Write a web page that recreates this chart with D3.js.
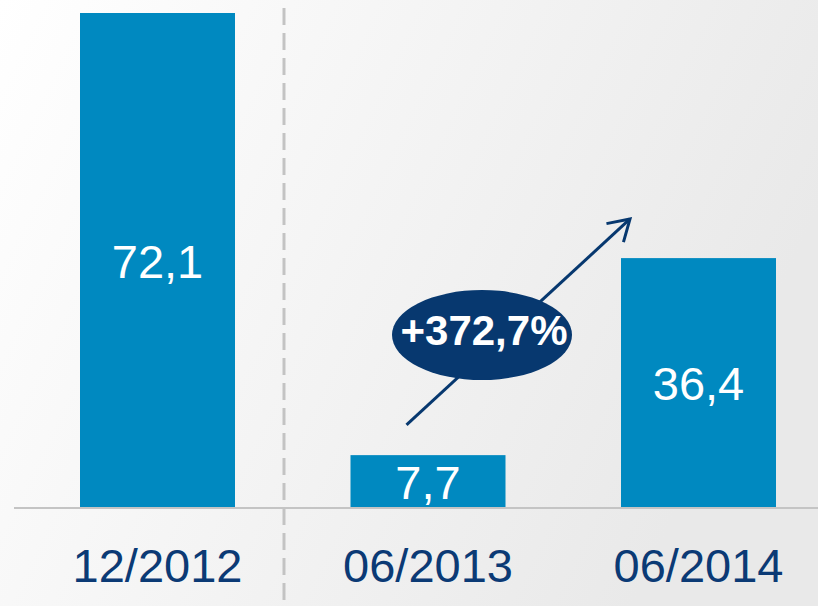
<!DOCTYPE html>
<html lang="en">
<head>
<meta charset="utf-8">
<title>Bars 12/2012 - 06/2014</title>
<script src="https://cdnjs.cloudflare.com/ajax/libs/d3/7.8.5/d3.min.js"></script>
<style>
  html, body { margin: 0; padding: 0; }
  body { width: 818px; height: 606px; overflow: hidden; }
  svg { display: block; font-family: "Liberation Sans", Arial, sans-serif; }
</style>
</head>
<body>
<div id="chart"></div>
<script>
// data
var categories = ["12/2012", "06/2013", "06/2014"];
var values = [72.1, 7.7, 36.4];
var valueLabels = ["72,1", "7,7", "36,4"];
var growthLabel = "+372,7%";

var width = 818, height = 606;
var baseY = 508, topY = 13;

var svg = d3.select("#chart").append("svg")
  .attr("width", width)
  .attr("height", height);

// soft grey background
var defs = svg.append("defs");
var grad = defs.append("linearGradient")
  .attr("id", "bg")
  .attr("x1", "0%").attr("y1", "0%")
  .attr("x2", "100%").attr("y2", "35%");
grad.append("stop").attr("offset", "0%").attr("stop-color", "#ffffff");
grad.append("stop").attr("offset", "100%").attr("stop-color", "#e9e9e9");

svg.append("rect")
  .attr("width", width).attr("height", height)
  .attr("fill", "url(#bg)");

var x = d3.scaleBand()
  .domain(categories)
  .range([22.25, 833.75])
  .paddingInner(0.427)
  .paddingOuter(0.2135);

var y = d3.scaleLinear()
  .domain([0, d3.max(values)])
  .range([baseY, topY]);

// dashed separator
svg.append("line")
  .attr("x1", 284).attr("x2", 284)
  .attr("y1", 8).attr("y2", height)
  .attr("stroke", "#c3c3c3")
  .attr("stroke-width", 3)
  .attr("stroke-dasharray", "17,8");

// bars
svg.selectAll("rect.bar")
  .data(values)
  .join("rect")
  .attr("class", "bar")
  .attr("x", function (d, i) { return x(categories[i]); })
  .attr("y", function (d) { return y(d); })
  .attr("width", x.bandwidth())
  .attr("height", function (d) { return y(0) - y(d); })
  .attr("fill", "#0089c0");

// baseline
svg.append("line")
  .attr("x1", 14).attr("x2", width)
  .attr("y1", baseY).attr("y2", baseY)
  .attr("stroke", "#c4c4c4")
  .attr("stroke-width", 2);

// value labels
svg.selectAll("text.val")
  .data(values)
  .join("text")
  .attr("class", "val")
  .attr("x", function (d, i) { return x(categories[i]) + x.bandwidth() / 2; })
  .attr("y", function (d) { return (y(d) + y(0)) / 2 + 17; })
  .attr("text-anchor", "middle")
  .attr("fill", "#ffffff")
  .attr("font-size", 47)
  .text(function (d, i) { return valueLabels[i]; });

// category labels
svg.selectAll("text.cat")
  .data(categories)
  .join("text")
  .attr("class", "cat")
  .attr("x", function (d) { return x(d) + x.bandwidth() / 2; })
  .attr("y", 582)
  .attr("text-anchor", "middle")
  .attr("fill", "#0b3a75")
  .attr("font-size", 47)
  .text(function (d) { return d; });

// growth arrow
var navy = "#07386f";
var x0 = x(categories[1]) + 56, y0 = y(12.1);
var x1 = x(categories[2]) + 9, y1 = y(42.1);
svg.append("line")
  .attr("x1", x0).attr("y1", y0)
  .attr("x2", x1).attr("y2", y1)
  .attr("stroke", navy)
  .attr("stroke-width", 3);
var ang = Math.atan2(y1 - y0, x1 - x0);
var head = 24, spread = 0.55;
svg.append("path")
  .attr("d", "M" + (x1 - head * Math.cos(ang - spread)) + "," + (y1 - head * Math.sin(ang - spread)) +
    "L" + x1 + "," + y1 +
    "L" + (x1 - head * Math.cos(ang + spread)) + "," + (y1 - head * Math.sin(ang + spread)))
  .attr("fill", "none")
  .attr("stroke", navy)
  .attr("stroke-width", 3);

svg.append("ellipse")
  .attr("cx", 482).attr("cy", 335)
  .attr("rx", 90).attr("ry", 45)
  .attr("fill", navy);

svg.append("text")
  .attr("x", 484).attr("y", 345)
  .attr("text-anchor", "middle")
  .attr("fill", "#ffffff")
  .attr("font-size", 42)
  .attr("font-weight", "bold")
  .text(growthLabel);
</script>
</body>
</html>
